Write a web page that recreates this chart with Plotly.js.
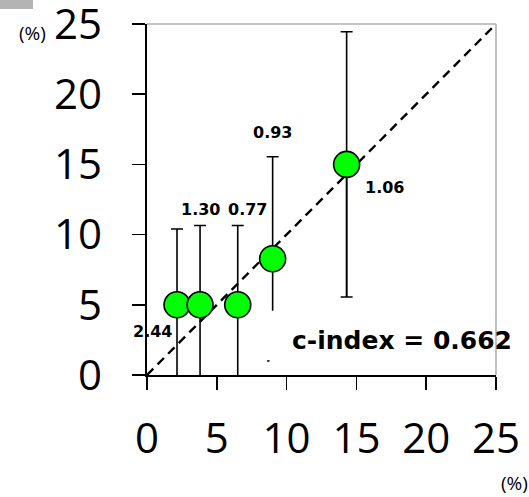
<!DOCTYPE html>
<html>
<head>
<meta charset="utf-8">
<script src="https://cdn.plot.ly/plotly-3.0.1.min.js"></script>
<style>html,body{margin:0;padding:0;background:#fff;}#chart{width:529px;height:497px;}</style>
</head>
<body>
<div id="chart"></div>
<script>
// Data
const predicted = [2.15, 3.8, 6.5, 9.0, 14.3];      // x (%)
const observed  = [5.0, 5.0, 5.0, 8.28, 15.0];      // y (%)
const upperCI   = [10.4, 10.65, 10.65, 15.55, 24.45];
const lowerCI   = [0.0, 0.0, 0.0, 4.58, 5.56];
const lowerCap  = [false, false, false, false, true];
const pointLabels = ['2.44', '1.30', '0.77', '0.93', '1.06'];
const tickVals = [0, 5, 10, 15, 20, 25];
const tickText = ['0', '5', '10', '15', '20', '25'];
const cIndexText = 'c-index = 0.662';

// label pixel offsets (style)
const labelShift = [[-25, -27], [0, 95], [10, 95], [0, 126], [38, -23]];

const errPlus = upperCI.map((u, i) => u - observed[i]);
const errMinus = lowerCI.map((l, i) => observed[i] - l);

const traces = [];
// upper error bars with caps
traces.push({
  type: 'scatter', mode: 'markers', x: predicted, y: observed,
  marker: {size: 1, color: 'rgba(0,0,0,0)'}, hoverinfo: 'skip', showlegend: false,
  error_y: {type: 'data', symmetric: false, array: errPlus, arrayminus: predicted.map(() => 0),
            color: '#000', thickness: 1.6, width: 6}
});
// lower error bars without caps
traces.push({
  type: 'scatter', mode: 'markers', x: predicted, y: observed,
  marker: {size: 1, color: 'rgba(0,0,0,0)'}, hoverinfo: 'skip', showlegend: false,
  error_y: {type: 'data', symmetric: false, array: predicted.map(() => 0), arrayminus: errMinus,
            color: '#000', thickness: 1.6, width: 0}
});
// lower error bars with caps (where the reference shows them)
const capIdx = lowerCap.map((c, i) => c ? i : -1).filter(i => i >= 0);
traces.push({
  type: 'scatter', mode: 'markers', x: capIdx.map(i => predicted[i]), y: capIdx.map(i => observed[i]),
  marker: {size: 1, color: 'rgba(0,0,0,0)'}, hoverinfo: 'skip', showlegend: false,
  error_y: {type: 'data', symmetric: false, array: capIdx.map(() => 0), arrayminus: capIdx.map(i => errMinus[i]),
            color: '#000', thickness: 1.6, width: 6}
});
// diagonal reference line
traces.push({
  type: 'scatter', mode: 'lines', x: [tickVals[0], tickVals[tickVals.length - 1]],
  y: [tickVals[0], tickVals[tickVals.length - 1]],
  line: {color: '#000', width: 2.4, dash: '9px,6px'}, hoverinfo: 'skip', showlegend: false
});
// points
traces.push({
  type: 'scatter', mode: 'markers', x: predicted, y: observed, showlegend: false,
  marker: {size: 26, color: '#00ff00', line: {color: '#000', width: 1.6}}
});

const annotations = pointLabels.map((t, i) => ({
  x: predicted[i], y: observed[i], xref: 'x', yref: 'y', text: '<b>' + t + '</b>',
  showarrow: false, xshift: labelShift[i][0], yshift: labelShift[i][1],
  xanchor: 'center', yanchor: 'middle',
  font: {family: 'DejaVu Sans', size: 16, color: '#000'}
}));
annotations.push({
  x: 18.27, y: 2.49, xref: 'x', yref: 'y', text: '<b>' + cIndexText + '</b>', showarrow: false,
  xanchor: 'center', yanchor: 'middle',
  font: {family: 'DejaVu Sans', size: 25, color: '#000'}
});
annotations.push({
  x: -0.327, y: 0.974, xref: 'paper', yref: 'paper', text: '(%)', showarrow: false,
  xanchor: 'center', yanchor: 'middle',
  font: {family: 'Open Sans', size: 19, color: '#000'}
});
annotations.push({
  x: 1.052, y: -0.308, xref: 'paper', yref: 'paper', text: '(%)', showarrow: false,
  xanchor: 'center', yanchor: 'middle',
  font: {family: 'Open Sans', size: 19, color: '#000'}
});

const shapes = [
  // gray top & right frame
  {type: 'line', xref: 'paper', yref: 'paper', x0: 0, x1: 1, y0: 1, y1: 1, line: {color: '#b0b0b0', width: 1.6}},
  {type: 'line', xref: 'paper', yref: 'paper', x0: 1, x1: 1, y0: 0, y1: 1, line: {color: '#b0b0b0', width: 1.6}},
  // gray block top-left
  {type: 'rect', xref: 'paper', yref: 'paper', x0: -0.4212, x1: -0.3266, y0: 1.0427, y1: 1.07,
   fillcolor: '#b4b4b4', line: {width: 0}},
  // tiny dash artifact
  {type: 'line', xref: 'x', yref: 'y', x0: 8.6, x1: 8.78, y0: 1.0, y1: 1.0, line: {color: '#000', width: 1.5}}
];

const axisCommon = {
  range: [0, 25], tickvals: tickVals, ticktext: tickText, showgrid: false, zeroline: false,
  showline: true, linecolor: '#000', linewidth: 1.6, ticks: 'outside', ticklen: 13,
  tickwidth: 1.6, tickcolor: '#000', fixedrange: true, ticklabeloverflow: 'allow',
  tickfont: {family: 'Open Sans', size: 42, color: '#000'}
};

const layout = {
  width: 529, height: 497,
  margin: {l: 147, r: 33, t: 24, b: 122},
  paper_bgcolor: '#fff', plot_bgcolor: '#fff',
  xaxis: Object.assign({}, axisCommon, {ticklabelstandoff: 13}),
  yaxis: Object.assign({}, axisCommon, {ticklabelstandoff: 22}),
  annotations: annotations, shapes: shapes, showlegend: false
};

Plotly.newPlot('chart', traces, layout, {displayModeBar: false, staticPlot: true});
</script>
</body>
</html>
